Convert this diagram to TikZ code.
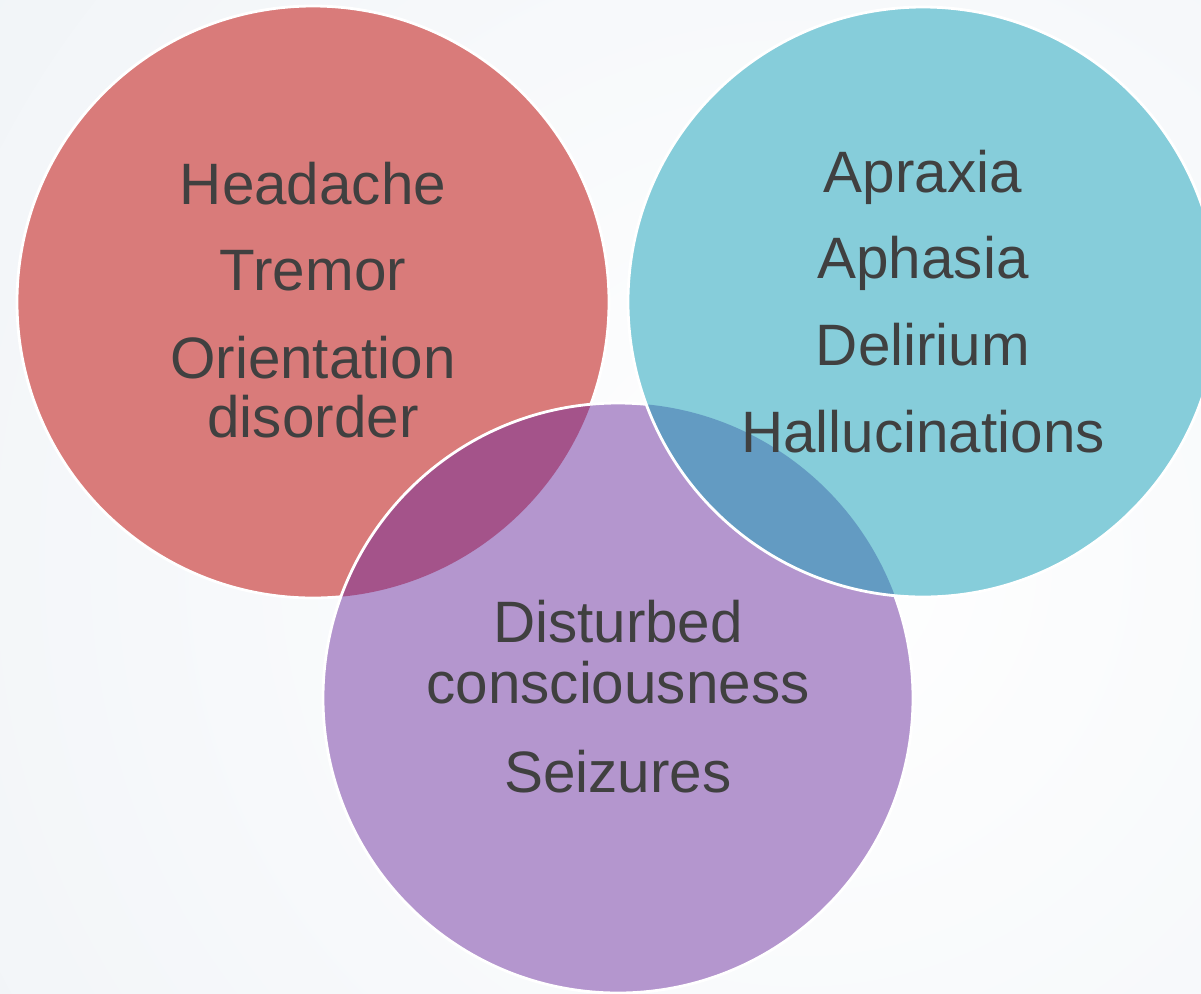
\documentclass[tikz,border=0pt]{standalone}
\usepackage{fontspec}
\setmainfont{Liberation Sans}
\definecolor{redc}{HTML}{D97B7A}
\definecolor{purc}{HTML}{B496CE}
\definecolor{tealc}{HTML}{86CDDA}
\definecolor{rpc}{HTML}{A4538A}
\definecolor{tpc}{HTML}{639BC2}
\definecolor{bgc}{HTML}{E6ECF2}
\definecolor{txt}{HTML}{404040}
\begin{document}
\begin{tikzpicture}[x=0.5pt,y=-0.5pt,
  lbl/.style={anchor=base, inner sep=0pt, text=txt, font=\fontsize{29.2}{34}\selectfont},
  ring/.style={draw=white, line width=1.4pt}]
\useasboundingbox (0,0) rectangle (1201,993);
\coordinate (cR) at (313,302);
\coordinate (cT) at (923,302);
\coordinate (cP) at (618,698);
\begin{scope}
  \clip (0,0) rectangle (1201,993);
  \shade[inner color=white, outer color=bgc] (800,560) circle (1800);
  % red circle
  \fill[redc] (cR) circle (296);
  \draw[ring] (cR) circle (296);
  % purple circle
  \fill[purc] (cP) circle (295);
  \begin{scope}
    \clip (cP) circle (295);
    \fill[rpc] (cR) circle (296);
  \end{scope}
  \draw[ring] (cP) circle (295);
  % teal circle
  \fill[tealc] (cT) circle (295);
  \begin{scope}
    \clip (cT) circle (295);
    \fill[tpc] (cP) circle (295);
  \end{scope}
  \draw[ring] (cT) circle (295);
\end{scope}
% labels
\node[lbl] (r1) at (313,204) {Headache};
\node[lbl] (r2) at (313,290) {Tremor};
\node[lbl] (r3) at (313,378) {Orientation};
\node[lbl] (r4) at (313,437) {disorder};
\node[lbl] (t1) at (923,192) {Apraxia};
\node[lbl] (t2) at (923,278) {Aphasia};
\node[lbl] (t3) at (923,365) {Delirium};
\node[lbl] (t4) at (923,452) {Hallucinations};
\node[lbl] (p1) at (618,642) {Disturbed};
\node[lbl] (p2) at (618,703) {consciousness};
\node[lbl] (p3) at (618,792) {Seizures};
\end{tikzpicture}
\end{document}
